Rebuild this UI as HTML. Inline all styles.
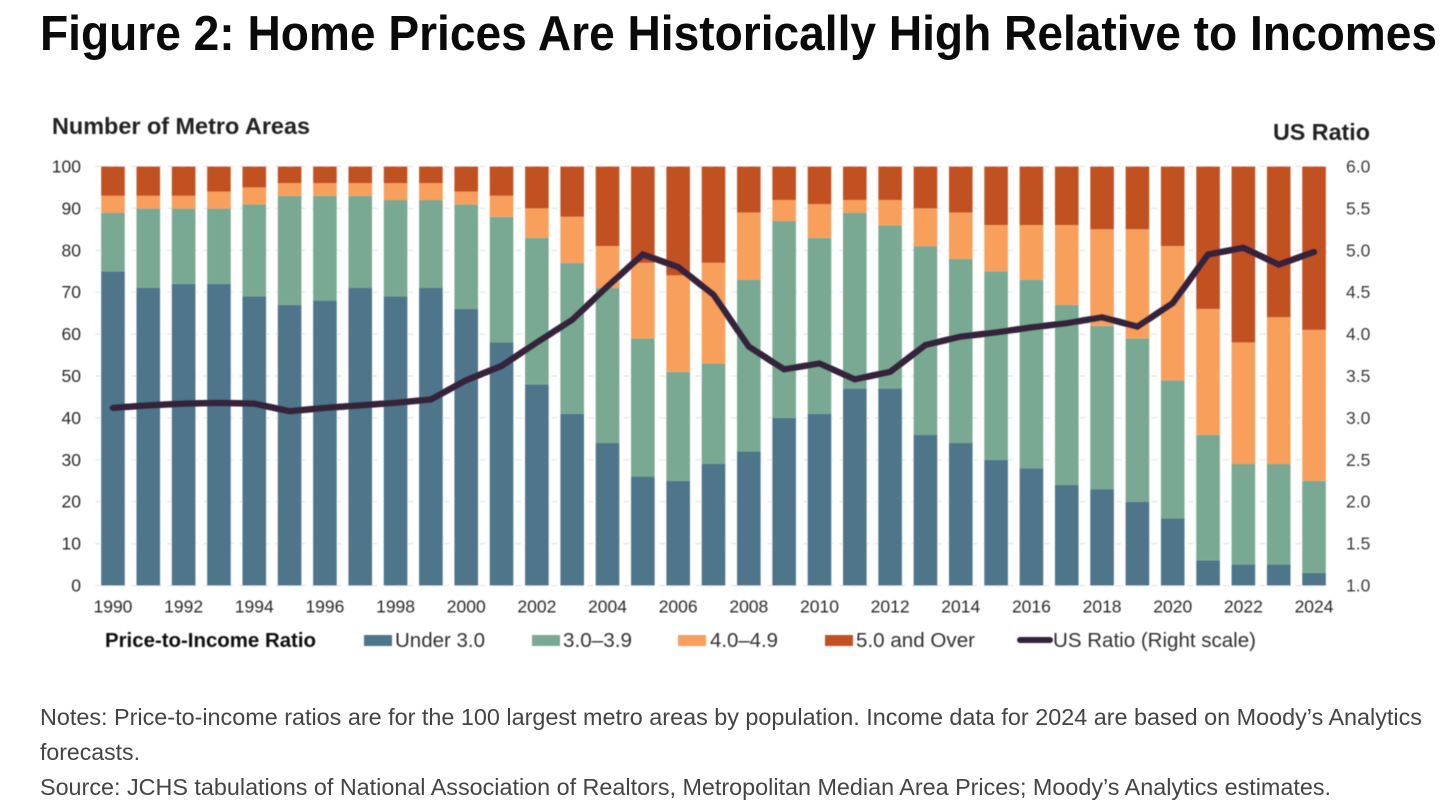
<!DOCTYPE html>
<html lang="en">
<head>
<meta charset="utf-8">
<title>Figure 2: Home Prices Are Historically High Relative to Incomes</title>
<style>
  html, body { margin: 0; padding: 0; background: #fff; }
  body { width: 1456px; height: 808px; overflow: hidden; font-family: "Liberation Sans", sans-serif; }
  svg { display: block; }
  text { font-family: "Liberation Sans", sans-serif; }
</style>
</head>
<body>
<svg id="figure" width="1456" height="808" viewBox="0 0 1456 808" xmlns="http://www.w3.org/2000/svg">
  <defs>
    <filter id="soft" x="-2%" y="-2%" width="104%" height="104%"><feGaussianBlur stdDeviation="0.45"/></filter>
  </defs>
  <text x="40" y="50" font-size="49" font-weight="700" fill="#0a0a0a" textLength="1397" lengthAdjust="spacingAndGlyphs">Figure 2: Home Prices Are Historically High Relative to Incomes</text>

  <g id="chart" filter="url(#soft)">
    <g id="grid"></g>
    <g id="bars"></g>
    <g id="line"></g>
    <g id="axes"></g>
    <text x="52" y="134" font-size="23" font-weight="700" fill="#222" textLength="258" lengthAdjust="spacingAndGlyphs">Number of Metro Areas</text>
    <text x="1273" y="140" font-size="23" font-weight="700" fill="#222" textLength="97" lengthAdjust="spacingAndGlyphs">US Ratio</text>

    <g>
      <text x="105" y="647" font-size="20.5" font-weight="700" fill="#111" textLength="211" lengthAdjust="spacingAndGlyphs">Price-to-Income Ratio</text>
      <g>
        <rect x="364" y="635" width="28" height="11" fill="#4f758b"/>
        <text x="395" y="647" font-size="20.5" fill="#333" textLength="90" lengthAdjust="spacingAndGlyphs">Under 3.0</text>
      </g>
      <g>
        <rect x="532" y="635" width="28" height="11" fill="#79a992"/>
        <text x="563" y="647" font-size="20.5" fill="#333" textLength="69" lengthAdjust="spacingAndGlyphs">3.0–3.9</text>
      </g>
      <g>
        <rect x="678" y="635" width="28" height="11" fill="#f89f5b"/>
        <text x="710" y="647" font-size="20.5" fill="#333" textLength="68" lengthAdjust="spacingAndGlyphs">4.0–4.9</text>
      </g>
      <g>
        <rect x="825" y="635" width="28" height="11" fill="#c25122"/>
        <text x="856" y="647" font-size="20.5" fill="#333" textLength="119" lengthAdjust="spacingAndGlyphs">5.0 and Over</text>
      </g>
      <g>
        <line x1="1020" y1="640" x2="1050" y2="640" stroke="#35203a" stroke-width="6" stroke-linecap="round"/>
        <text x="1053" y="647" font-size="20.5" fill="#333" textLength="203" lengthAdjust="spacingAndGlyphs">US Ratio (Right scale)</text>
      </g>
    </g>
  </g>

  <g font-size="23.5" fill="#444">
    <text x="40" y="725" textLength="1382" lengthAdjust="spacingAndGlyphs">Notes: Price-to-income ratios are for the 100 largest metro areas by population. Income data for 2024 are based on Moody’s Analytics</text>
    <text x="40" y="760" textLength="100" lengthAdjust="spacingAndGlyphs">forecasts.</text>
    <text x="40" y="795" textLength="1291" lengthAdjust="spacingAndGlyphs">Source: JCHS tabulations of National Association of Realtors, Metropolitan Median Area Prices; Moody’s Analytics estimates.</text>
  </g>
</svg>

<script>
const years = [1990,1991,1992,1993,1994,1995,1996,1997,1998,1999,2000,2001,2002,2003,2004,2005,2006,2007,2008,2009,2010,2011,2012,2013,2014,2015,2016,2017,2018,2019,2020,2021,2022,2023,2024];
const under3 = [75,71,72,72,69,67,68,71,69,71,66,58,48,41,34,26,25,29,32,40,41,47,47,36,34,30,28,24,23,20,16,6,5,5,3];
const from3to39 = [14,19,18,18,22,26,25,22,23,21,25,30,35,36,37,33,26,24,41,47,42,42,39,45,44,45,45,43,39,39,33,30,24,24,22];
const from4to49 = [4,3,3,4,4,3,3,3,4,4,3,5,7,11,10,18,23,24,16,5,8,3,6,9,11,11,13,19,23,26,32,30,29,35,36];
const over5 = [7,7,7,6,5,4,4,4,4,4,6,7,10,12,19,23,26,23,11,8,9,8,8,10,11,14,14,14,15,15,19,34,42,36,39];
const usRatio = [3.12,3.15,3.17,3.18,3.17,3.08,3.12,3.15,3.18,3.22,3.45,3.62,3.9,4.17,4.57,4.95,4.8,4.47,3.85,3.58,3.65,3.46,3.55,3.87,3.97,4.02,4.08,4.13,4.2,4.09,4.37,4.95,5.03,4.83,4.98];
const leftTicks = [0,10,20,30,40,50,60,70,80,90,100];
const rightTicks = [1.0,1.5,2.0,2.5,3.0,3.5,4.0,4.5,5.0,5.5,6.0];

const NS = 'http://www.w3.org/2000/svg';
const plot = { left: 95.3, right: 1331.7, top: 166.5, bottom: 585.5 };
const barWidth = 23.6;
const band = (plot.right - plot.left) / years.length;
const xPos = i => plot.left + band * (i + 0.5);
const yLeft = v => plot.bottom - (v / 100) * (plot.bottom - plot.top);
const yRight = v => plot.bottom - ((v - 1) / 5) * (plot.bottom - plot.top);

function make(tag, attrs, parent) {
  const el = document.createElementNS(NS, tag);
  for (const k in attrs) el.setAttribute(k, attrs[k]);
  parent.appendChild(el);
  return el;
}

const gridG = document.getElementById('grid');
const barsG = document.getElementById('bars');
const lineG = document.getElementById('line');
const axesG = document.getElementById('axes');

leftTicks.forEach(t => {
  const y = yLeft(t);
  const g = make('line', { x1: plot.left, x2: plot.right, y1: y, y2: y, stroke: '#e2e4e6', 'stroke-width': 1.2, 'stroke-dasharray': '6 6' }, gridG);
  
  
  const lab = make('text', { x: 81, y: y + 6, 'text-anchor': 'end', 'font-size': 17.5, fill: '#2b2b2b' }, axesG);
  lab.textContent = String(t);
  
  
});

rightTicks.forEach(t => {
  const lab = make('text', { x: 1346, y: yRight(t) + 6, 'font-size': 17.5, fill: '#3c3c3c' }, axesG);
  lab.textContent = t.toFixed(1);
  
  
});

const seriesNames = ['under-3', '3-to-3-9', '4-to-4-9', '5-and-over'];
const seriesData = [under3, from3to39, from4to49, over5];
const seriesColors = ['#4f758b', '#79a992', '#f89f5b', '#c25122'];

years.forEach((yr, i) => {
  let base = 0;
  seriesData.forEach((arr, s) => {
    const v = arr[i];
    const top = base + v;
    const r = make('rect', {
      x: xPos(i) - barWidth / 2,
      y: yLeft(top),
      width: barWidth,
      height: yLeft(base) - yLeft(top),
      fill: seriesColors[s]
    }, barsG);
    
    
    base = top;
  });
  if (i % 2 === 0) {
    const lab = make('text', { x: xPos(i), y: 612.5, 'text-anchor': 'middle', 'font-size': 17.5, fill: '#2b2b2b' }, axesG);
    lab.textContent = String(yr);
    
    
  }
});

const pts = usRatio.map((v, i) => xPos(i).toFixed(2) + ',' + yRight(v).toFixed(2)).join(' ');
const poly = make('polyline', { points: pts, fill: 'none', stroke: '#35203a', 'stroke-width': 6.5, 'stroke-linejoin': 'miter', 'stroke-linecap': 'round' }, lineG);


</script>
</body>
</html>
